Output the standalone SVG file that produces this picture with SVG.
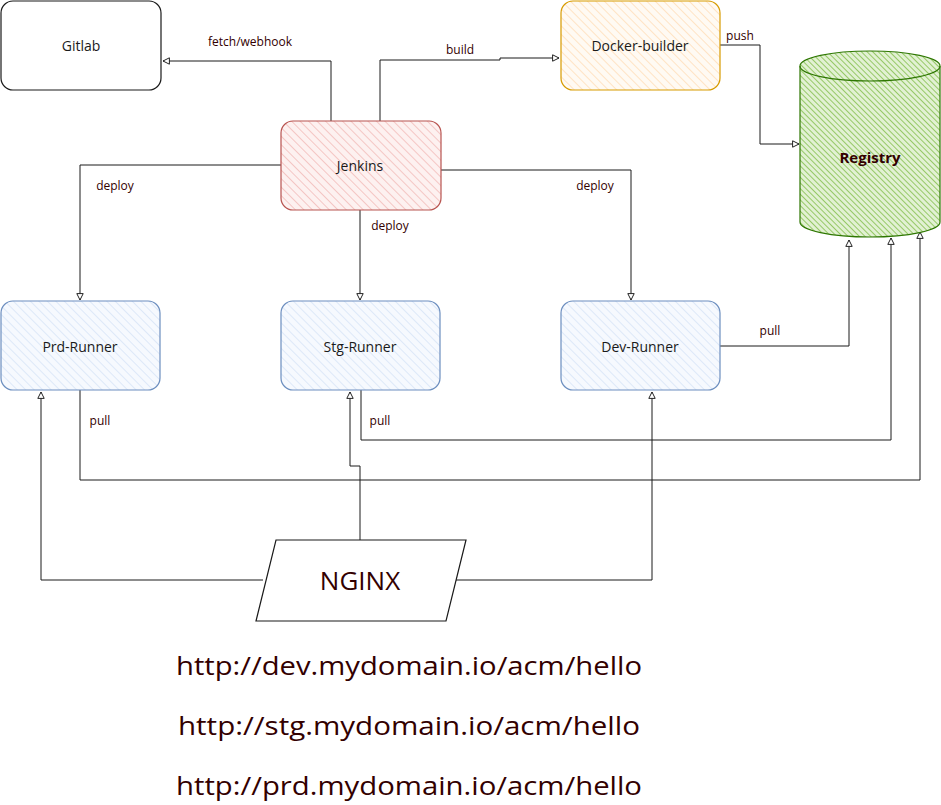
<svg xmlns="http://www.w3.org/2000/svg" width="941" height="805" viewBox="0 0 941 805">
<style>
.node{stroke-width:1.2}
.lbl{font-family:"Open Sans","Liberation Sans",sans-serif;font-size:14px;fill:#1a1a1a;text-anchor:middle;dominant-baseline:central}
.el{font-family:"Open Sans","Liberation Sans",sans-serif;font-size:12px;fill:#330000;dominant-baseline:central}
.conn{fill:none;stroke:#1a1a1a;stroke-width:1}
.url{font-family:"Open Sans","Liberation Sans",sans-serif;font-size:26px;fill:#330000;text-anchor:middle;dominant-baseline:central}
</style>
<defs>
<pattern id="hR" width="6" height="6" patternUnits="userSpaceOnUse" patternTransform="rotate(-45)"><rect width="6" height="6" fill="#fdf1f0"/><line x1="0" y1="0" x2="0" y2="6" stroke="#f2b8b5" stroke-width="1.5"/></pattern>
<pattern id="hO" width="6" height="6" patternUnits="userSpaceOnUse" patternTransform="rotate(-45)"><rect width="6" height="6" fill="#fffaf3"/><line x1="0" y1="0" x2="0" y2="6" stroke="#ffdcb5" stroke-width="1.5"/></pattern>
<pattern id="hB" width="6" height="6" patternUnits="userSpaceOnUse" patternTransform="rotate(-45)"><rect width="6" height="6" fill="#f6f9fe"/><line x1="0" y1="0" x2="0" y2="6" stroke="#d5e3f7" stroke-width="1.5"/></pattern>
<pattern id="hG" width="4" height="4" patternUnits="userSpaceOnUse" patternTransform="rotate(-45)"><rect width="4" height="4" fill="#e2f1d3"/><line x1="0" y1="0" x2="0" y2="4" stroke="#6db22c" stroke-width="1.3"/></pattern>
<marker id="arr" viewBox="0 0 10 10" refX="9" refY="5" markerWidth="8" markerHeight="8" orient="auto" markerUnits="userSpaceOnUse"><path d="M1,1 L9,5 L1,9 Z" fill="#ffffff" stroke="#1a1a1a" stroke-width="1.2"/></marker>
</defs>

<g id="connectors">
<path class="conn" d="M331,121 V61 H163" marker-end="url(#arr)"/>
<path class="conn" d="M380,121 V60 H500 V58 H559" marker-end="url(#arr)"/>
<path class="conn" d="M720,45 H760 V144 H799" marker-end="url(#arr)"/>
<path class="conn" d="M281,165 H80 V300" marker-end="url(#arr)"/>
<path class="conn" d="M360,210 V300" marker-end="url(#arr)"/>
<path class="conn" d="M441,170 H631 V300" marker-end="url(#arr)"/>
<path class="conn" d="M720,346 H849 V240" marker-end="url(#arr)"/>
<path class="conn" d="M361,390 V440 H891 V238" marker-end="url(#arr)"/>
<path class="conn" d="M80,390 V480 H920 V232" marker-end="url(#arr)"/>
<path class="conn" d="M263,580 H41 V392" marker-end="url(#arr)"/>
<path class="conn" d="M360,540 V466 H350 V392" marker-end="url(#arr)"/>
<path class="conn" d="M456,580 H652 V392" marker-end="url(#arr)"/>
<text class="el" x="250" y="41" text-anchor="middle">fetch/webhook</text>
<text class="el" x="460" y="49" text-anchor="middle">build</text>
<text class="el" x="740" y="35" text-anchor="middle">push</text>
<text class="el" x="115" y="185" text-anchor="middle">deploy</text>
<text class="el" x="390" y="225" text-anchor="middle">deploy</text>
<text class="el" x="595" y="185" text-anchor="middle">deploy</text>
<text class="el" x="770" y="330" text-anchor="middle">pull</text>
<text class="el" x="380" y="420" text-anchor="middle">pull</text>
<text class="el" x="100" y="420" text-anchor="middle">pull</text>
</g>

<g id="gitlab">
<rect class="node" x="1" y="1" width="160" height="89" rx="12" fill="#ffffff" stroke="#1a1a1a"/>
<text class="lbl" x="81" y="45">Gitlab</text>
</g>
<g id="docker-builder">
<rect class="node" x="561" y="1" width="159" height="89" rx="12" fill="url(#hO)" stroke="#d79b00"/>
<text class="lbl" x="640" y="45">Docker-builder</text>
</g>
<g id="jenkins">
<rect class="node" x="281" y="121" width="160" height="89" rx="12" fill="url(#hR)" stroke="#b85450"/>
<text class="lbl" x="360" y="165">Jenkins</text>
</g>
<g id="registry">
<path class="node" d="M800,66 A70,15 0 0 1 940,66 V222 A70,15 0 0 1 800,222 Z" fill="url(#hG)" stroke="#2d7600"/>
<path d="M800,66 A70,15 0 0 0 940,66" fill="none" stroke="#2d7600" stroke-width="1.2"/>
<text class="lbl" x="870" y="157" style="fill:#330000;font-weight:bold;font-size:15px">Registry</text>
</g>
<g id="prd-runner">
<rect class="node" x="1" y="301" width="159" height="89" rx="12" fill="url(#hB)" stroke="#6c8ebf"/>
<text class="lbl" x="80" y="346">Prd-Runner</text>
</g>
<g id="stg-runner">
<rect class="node" x="281" y="301" width="159" height="89" rx="12" fill="url(#hB)" stroke="#6c8ebf"/>
<text class="lbl" x="360" y="346">Stg-Runner</text>
</g>
<g id="dev-runner">
<rect class="node" x="561" y="301" width="159" height="89" rx="12" fill="url(#hB)" stroke="#6c8ebf"/>
<text class="lbl" x="640" y="346">Dev-Runner</text>
</g>
<g id="nginx">
<polygon class="node" points="276,540 466,540 446,621 256,621" fill="#ffffff" stroke="#1a1a1a"/>
<text class="lbl" x="360" y="580" style="fill:#330000;font-size:26px">NGINX</text>
</g>
<g id="urls">
<text class="url" x="409" y="665" textLength="466" lengthAdjust="spacingAndGlyphs">http://dev.mydomain.io/acm/hello</text>
<text class="url" x="409" y="725" textLength="462" lengthAdjust="spacingAndGlyphs">http://stg.mydomain.io/acm/hello</text>
<text class="url" x="409" y="785" textLength="466" lengthAdjust="spacingAndGlyphs">http://prd.mydomain.io/acm/hello</text>
</g>
</svg>
